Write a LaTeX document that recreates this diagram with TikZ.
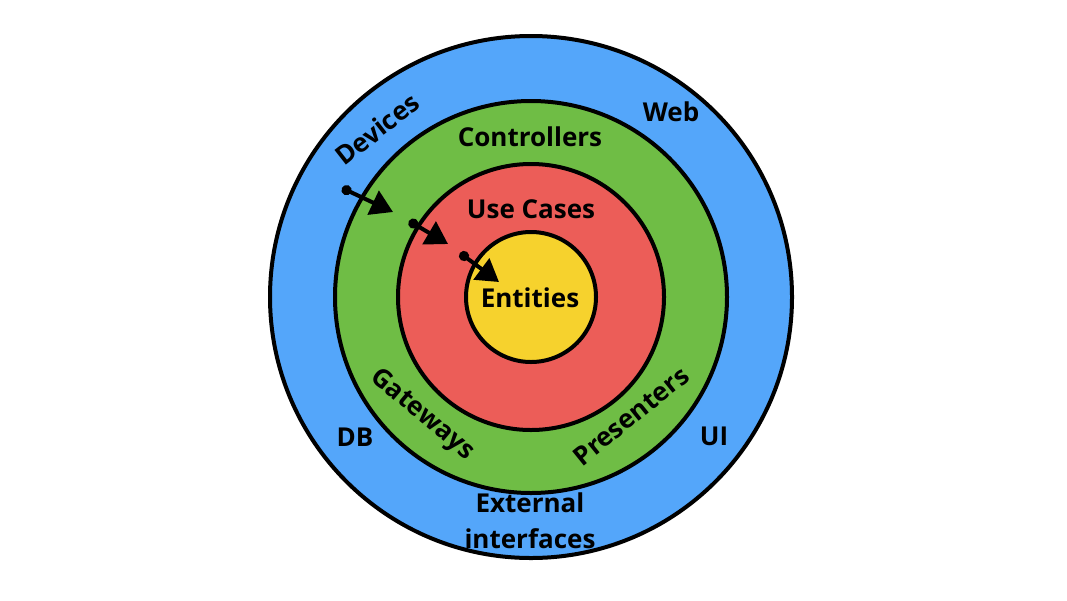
\documentclass[tikz,border=0pt]{standalone}
\usepackage{fontspec}
\setmainfont{Open Sans}
\usetikzlibrary{arrows.meta}

\definecolor{extblue}{RGB}{84,166,250}
\definecolor{ctlgreen}{RGB}{111,189,69}
\definecolor{ucred}{RGB}{236,93,88}
\definecolor{entyellow}{RGB}{246,210,45}

\begin{document}
\begin{tikzpicture}[x=1pt,y=-1pt,
    ring/.style={circle,draw,line width=4pt,inner sep=0pt},
    lbl/.style={font=\bfseries\fontsize{26}{36}\selectfont,align=center},
    dep/.style={{Circle[length=10pt]}-{Triangle[length=22pt,width=26pt]},line width=4pt}]
			\useasboundingbox (0,0) rectangle (1067,600);
			\node[ring,fill=extblue,minimum size=522pt] (ext) at (531,297) {};
			\node[ring,fill=ctlgreen,minimum size=392pt] (ctl) at (531,297) {};
			\node[ring,fill=ucred,minimum size=266pt] (uc) at (531,297) {};
			\node[ring,fill=entyellow,minimum size=130pt] (ent) at (531,297) {};
			% labels
			\node[lbl] (ents) at (530,298) {Entities};
			\node[lbl] (ucs) at (531,209) {Use Cases};
			\node[lbl] (ctls) at (530,137) {Controllers};
			\node[lbl,rotate=-40] (gw) at (422,415) {Gateways};
			\node[lbl,rotate=39] (pres) at (631,416) {Presenters};
			\node[lbl,rotate=38] (dev) at (377,129) {Devices};
			\node[lbl] (web) at (671,112) {Web};
			\node[lbl] (db) at (355,437) {DB};
			\node[lbl] (ui) at (714,436) {UI};
			\node[lbl] (exti) at (530,521) {External\\interfaces};
			% dependency arrows
			\coordinate (a1) at (342,188);
			\coordinate (b1) at (393,212);
			\coordinate (a2) at (409,221);
			\coordinate (b2) at (448,244);
			\coordinate (a3) at (460,253);
			\coordinate (b3) at (499,282);
			\draw[dep] (a1) -- (b1);
			\draw[dep] (a2) -- (b2);
			\draw[dep] (a3) -- (b3);
		\end{tikzpicture}
\end{document}
